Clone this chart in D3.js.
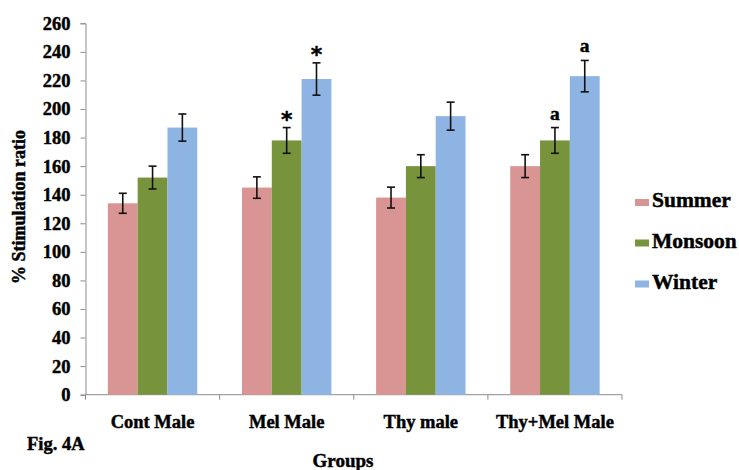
<!DOCTYPE html>
<html>
<head>
<meta charset="utf-8">
<script src="https://cdn.jsdelivr.net/npm/d3@7"></script>
<style>
  html, body { margin: 0; padding: 0; background: #fff; }
  svg text { font-family: "Liberation Serif", "Times New Roman", serif; font-weight: bold; fill: #000;
             stroke: #000; stroke-width: 0.45px; }
</style>
</head>
<body>
<svg id="chart" width="739" height="470"></svg>
<script>
// Groups on the x axis
const categories = ["Cont Male", "Mel Male", "Thy male", "Thy+Mel Male"];
// Season series (mean % stimulation ratio) and their error half-widths
const seasons = ["Summer", "Monsoon", "Winter"];
const summer = [134, 145, 138, 160];
const summerErr = [7, 7.5, 7.3, 8];
const monsoon = [152, 178, 160, 178];
const monsoonErr = [8, 9, 8, 9];
const winter = [187, 221, 195, 223];
const winterErr = [9.5, 11.3, 9.8, 11];
// Significance marks above the bars
const monsoonMarks = ["", "*", "", "a"];
const winterMarks = ["", "*", "", "a"];
const yTicks = [0, 20, 40, 60, 80, 100, 120, 140, 160, 180, 200, 220, 240, 260];

const colors = ["#d99594", "#77933c", "#8eb4e3"];
const series = [
  { name: seasons[0], values: summer, err: summerErr, marks: null },
  { name: seasons[1], values: monsoon, err: monsoonErr, marks: monsoonMarks },
  { name: seasons[2], values: winter, err: winterErr, marks: winterMarks }
];

const svg = d3.select("#chart");
const plotLeft = 85.5, plotRight = 622, plotTop = 23.3, plotBottom = 394.7;

const x0 = d3.scaleBand().domain(categories).range([plotLeft, plotRight]).paddingInner(0).paddingOuter(0);
const groupW = x0.bandwidth() * (3 / 4.5);
const x1 = d3.scaleBand().domain(seasons).range([0, groupW]).padding(0);
const y = d3.scaleLinear().domain([0, 260]).range([plotBottom, plotTop]);

const axisColor = "#8c8c8c";

// Y axis
const yAxis = svg.append("g")
  .attr("transform", `translate(${plotLeft},0)`)
  .call(d3.axisLeft(y).tickValues(yTicks).tickSize(5).tickPadding(10));
yAxis.selectAll("path, line").attr("stroke", axisColor);
yAxis.selectAll("text").attr("font-size", 18.5).attr("fill", "#000")
  .style("font-family", '"Liberation Serif", serif').style("font-weight", "bold");

// X axis with tick marks at group boundaries
const xAxisG = svg.append("g").attr("transform", `translate(0,${plotBottom})`);
xAxisG.append("line").attr("x1", plotLeft).attr("x2", plotRight).attr("y1", 0).attr("y2", 0)
  .attr("stroke", axisColor);
const bounds = categories.map(c => x0(c)).concat([plotRight]);
xAxisG.selectAll("line.tk").data(bounds).enter().append("line")
  .attr("class", "tk")
  .attr("x1", d => d).attr("x2", d => d).attr("y1", 0).attr("y2", 5)
  .attr("stroke", axisColor);
xAxisG.selectAll("text.cat").data(categories).enter().append("text")
  .attr("class", "cat")
  .attr("x", d => x0(d) + x0.bandwidth() / 2)
  .attr("y", 33)
  .attr("text-anchor", "middle")
  .attr("font-size", 18.5)
  .text(d => d);

// Bars
const offset = (x0.bandwidth() - groupW) / 2;
series.forEach((s, si) => {
  const g = svg.append("g");
  g.selectAll("rect").data(s.values).enter().append("rect")
    .attr("x", (d, i) => x0(categories[i]) + offset + x1(s.name))
    .attr("y", d => y(d))
    .attr("width", x1.bandwidth())
    .attr("height", d => y(0) - y(d))
    .attr("fill", colors[si]);
});

// Error bars and significance marks
series.forEach((s) => {
  s.values.forEach((v, i) => {
    const cx = x0(categories[i]) + offset + x1(s.name) + x1.bandwidth() / 2;
    const hi = y(v + s.err[i]), lo = y(v - s.err[i]);
    const g = svg.append("g").attr("stroke", "#111").attr("stroke-width", 1.6);
    g.append("line").attr("x1", cx).attr("x2", cx).attr("y1", hi).attr("y2", lo);
    g.append("line").attr("x1", cx - 4).attr("x2", cx + 4).attr("y1", hi).attr("y2", hi);
    g.append("line").attr("x1", cx - 4).attr("x2", cx + 4).attr("y1", lo).attr("y2", lo);
    if (s.marks && s.marks[i]) {
      const m = s.marks[i];
      svg.append("text")
        .attr("x", cx)
        .attr("y", m === "*" ? hi - 1 : hi - 8)
        .attr("text-anchor", "middle")
        .attr("font-size", m === "*" ? 22 : 19.5)
        .style("font-family", m === "*" ? '"DejaVu Sans", sans-serif' : '"Liberation Serif", serif')
        .text(m);
    }
  });
});

// Axis titles
svg.append("text")
  .attr("transform", `translate(25,207) rotate(-90)`)
  .attr("text-anchor", "middle")
  .attr("font-size", 18)
  .text("% Stimulation ratio");
svg.append("text")
  .attr("x", 343).attr("y", 467)
  .attr("text-anchor", "middle")
  .attr("font-size", 19)
  .text("Groups");
svg.append("text")
  .attr("x", 27).attr("y", 450)
  .attr("font-size", 18.5)
  .text("Fig. 4A");

// Legend
const legendBase = [207, 247.5, 288.5];
const legend = svg.append("g");
seasons.forEach((name, i) => {
  legend.append("rect")
    .attr("x", 635).attr("y", legendBase[i] - 8)
    .attr("width", 14).attr("height", 7)
    .attr("fill", colors[i]);
  legend.append("text")
    .attr("x", 652).attr("y", legendBase[i])
    .attr("font-size", 21.5)
    .text(name);
});
</script>
</body>
</html>
